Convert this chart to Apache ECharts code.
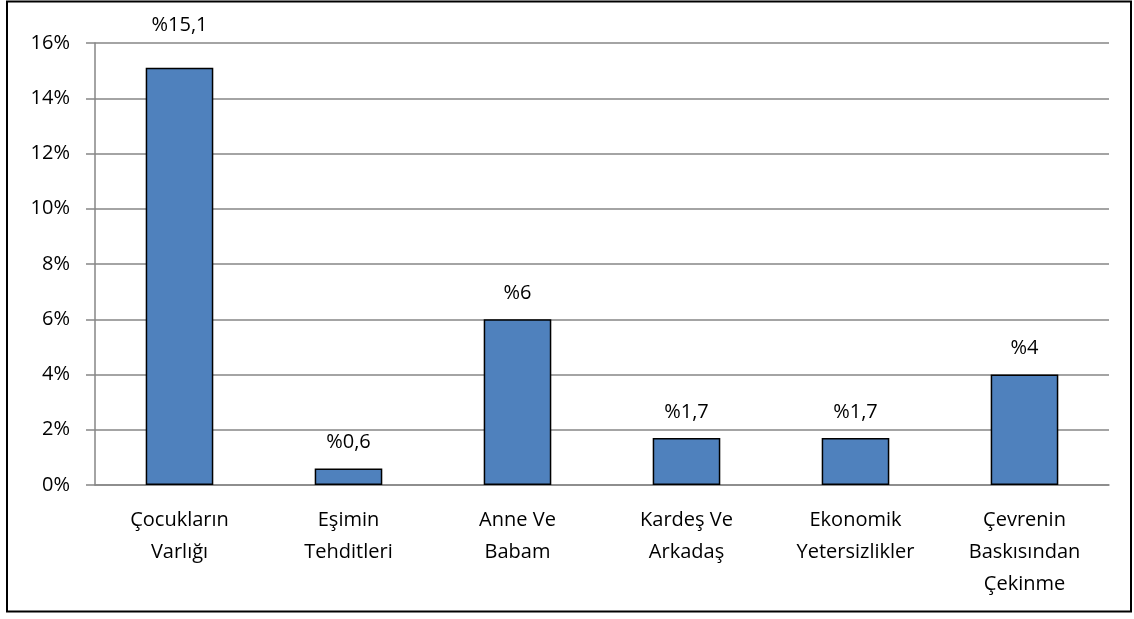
<!DOCTYPE html>
<html lang="tr">
<head>
    <meta charset="UTF-8">
    <title>Chart</title>
    <script src="https://cdn.jsdelivr.net/npm/echarts@6/dist/echarts.min.js"></script>
    <style>
        html, body { margin: 0; padding: 0; background: #fff; }
        #chart { width: 1134px; height: 619px; }
    </style>
</head>
<body>
    <div id="chart"></div>
    <script>
        var categories = ['Çocukların\nVarlığı', 'Eşimin\nTehditleri', 'Anne Ve\nBabam', 'Kardeş Ve\nArkadaş', 'Ekonomik\nYetersizlikler', 'Çevrenin\nBaskısından\nÇekinme'];
        var values = [15.1, 0.6, 6, 1.7, 1.7, 4];
        var yTicks = [0, 2, 4, 6, 8, 10, 12, 14, 16];

        var font = 'Open Sans';
        var fs = 20;
        var myChart = echarts.init(document.getElementById('chart'));

        // the first label sits a bit higher in the original
        var barData = values.map(function (v, i) {
            return i === 0 ? { value: v, label: { distance: 33 } } : v;
        });

        var option = {
            animation: false,
            grid: { left: 95, right: 25, top: 43, bottom: 134 },
            graphic: [{
                type: 'rect',
                shape: { x: 7, y: 1.5, width: 1124, height: 610 },
                style: { fill: 'none', stroke: '#000', lineWidth: 2 }
            }],
            xAxis: {
                type: 'category',
                data: categories,
                axisLine: { lineStyle: { color: '#868686', width: 1.5 } },
                axisTick: { show: false },
                axisLabel: {
                    color: '#000', fontFamily: font, fontSize: fs,
                    lineHeight: 32, margin: 19, interval: 0
                }
            },
            yAxis: {
                type: 'value',
                min: yTicks[0],
                max: yTicks[yTicks.length - 1],
                interval: 2,
                axisLine: { show: true, lineStyle: { color: '#868686', width: 1.5 } },
                axisTick: { show: true, length: 9, lineStyle: { color: '#868686', width: 1.5 } },
                splitLine: { lineStyle: { color: '#868686', width: 1.5 } },
                axisLabel: {
                    color: '#000', fontFamily: font, fontSize: fs, margin: 25,
                    formatter: function (v) { return v + '%'; }
                }
            },
            series: [{
                type: 'bar',
                data: barData,
                barCategoryGap: '60%',
                itemStyle: { color: '#4F81BD', borderColor: '#000', borderWidth: 1.5 },
                label: {
                    show: true, position: 'top', distance: 16,
                    color: '#000', fontFamily: font, fontSize: fs,
                    formatter: function (p) { return '%' + String(p.value).replace('.', ','); }
                }
            }]
        };
        myChart.setOption(option);
    </script>
</body>
</html>
